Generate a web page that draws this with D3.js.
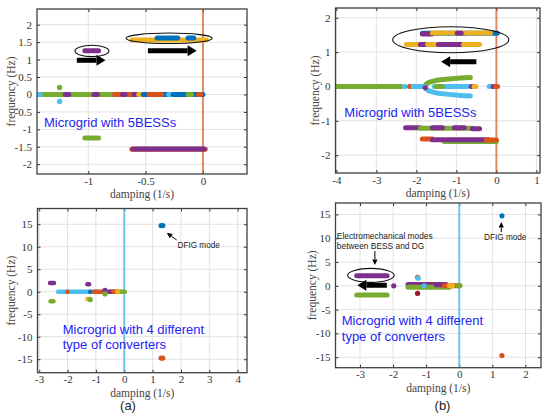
<!DOCTYPE html>
<html>
<head>
<meta charset="utf-8">
<script src="https://cdn.jsdelivr.net/npm/d3@7"></script>
<style>
body { margin: 0; background: #fff; }
</style>
</head>
<body>
<div id="fig"></div>
<script>
// MATLAB default line colours
var blue = "#0072BD", orange = "#D95319", yellow = "#EDB120", purple = "#7E2F8E",
    green = "#77AC30", cyan = "#4DBEEE", maroon = "#A2142F";

// ---- (a) top : microgrid with 5 BESSs ----
var aTopXTicks = [-1, -0.5, 0];
var aTopYTicks = [-2, -1.5, -1, -0.5, 0, 0.5, 1, 1.5, 2];
// bands: [damping start, damping end, frequency, colour]
var aTopBands = [
    [-1.45, -1.38, 0, cyan], [-1.38, -0.77, 0, green], [-1.2, -1.17, 0, purple], [-0.95, -0.92, 0, purple],
    [-0.77, -0.52, 0, orange], [-0.7, -0.68, 0, purple], [-0.6, -0.58, 0, purple], [-0.56, -0.54, 0, yellow],
    [-0.52, -0.26, 0, blue], [-0.47, -0.36, 0, orange], [-0.3, -0.28, 0, cyan],
    [-0.26, 0, 0, blue], [-0.13, -0.1, 0, green], [-0.04, -0.02, 0, orange],
    [-1.03, -0.91, 1.25, purple],
    [-0.62, 0.03, 1.56, yellow], [-0.4, -0.22, 1.62, blue], [-0.13, -0.08, 1.62, blue],
    [-1.03, -0.91, -1.25, green],
    [-0.62, 0.02, -1.57, orange], [-0.61, 0.01, -1.56, purple]
];
var aTopDots = [[-1.25, 0.2, green], [-1.25, -0.2, cyan]];
var aTopEllipses = [[-0.968, 1.247, 0.148, 0.163], [-0.295, 1.61, 0.376, 0.15]];
var aTopArrows = [[-1.1, 0.98, -0.85, 0.98], [-0.48, 1.255, -0.055, 1.255]];

// ---- (b) top : microgrid with 5 BESSs ----
var bTopXTicks = [-4, -3, -2, -1, 0, 1];
var bTopYTicks = [-2, -1, 0, 1, 2];
var bTopBands = [
    [-4.02, -2.38, 0, green], [-2.3, -2.28, 0, cyan], [-2.17, -2.15, 0, orange], [-2.08, -1.86, 0, cyan],
    [-1.78, -1.78, -0.04, purple], [-1.55, -0.72, 0, cyan], [-1.5, -1.35, 0, green],
    [-0.63, -0.6, 0, purple], [-0.56, -0.51, 0, yellow], [-0.18, -0.12, 0, cyan], [-0.08, -0.04, 0, purple], [-0.02, 0.03, 0, orange],
    [-1.85, 0.02, 1.55, blue], [-1.85, -1.6, 1.53, purple], [-1.6, -1.25, 1.56, yellow],
    [-1.15, -0.85, 1.56, yellow], [-0.75, -0.15, 1.56, yellow], [-0.98, -0.88, 1.55, purple],
    [-2.25, -1.9, 1.22, yellow], [-1.9, -1.75, 1.22, purple], [-1.72, -1.45, 1.22, yellow],
    [-1.45, -0.85, 1.22, purple], [-0.82, -0.42, 1.22, yellow],
    [-2.27, -1.9, -1.2, purple], [-1.9, -0.6, -1.22, green], [-1.6, -1.35, -1.2, purple],
    [-1.05, -0.8, -1.2, purple], [-0.6, -0.42, -1.23, purple],
    [-1.3, 0.0, -1.6, green], [-1.85, -1.6, -1.53, orange], [-1.6, -1.3, -1.55, purple],
    [-1.25, -0.2, -1.55, purple], [-0.25, 0.0, -1.56, orange]
];
var bTopUpper = [[-1.8, 0], [-1.76, 0.06], [-1.7, 0.11], [-1.6, 0.15], [-1.45, 0.19], [-1.2, 0.22], [-0.9, 0.245], [-0.65, 0.26]];
var bTopLower = [[-1.8, 0], [-1.76, -0.06], [-1.7, -0.12], [-1.6, -0.16], [-1.45, -0.2], [-1.2, -0.23], [-0.9, -0.26], [-0.65, -0.28]];
var bTopEllipses = [[-1.14, 1.36, 1.45, 0.38]];
var bTopArrows = [[-0.5, 0.72, -1.38, 0.72]];

// ---- (a) bottom : microgrid with 4 different converters ----
var aBotXTicks = [-3, -2, -1, 0, 1, 2, 3, 4];
var aBotYTicks = [-15, -10, -5, 0, 5, 10, 15];
var aBotBands = [
    [-2.33, -0.97, 0, cyan], [-2.0, -2.0, 0, orange], [-1.2, -1.2, 0, blue],
    [-1.06, -0.5, 0, orange], [-0.5, -0.3, 0, purple], [-0.38, -0.33, 0, orange],
    [-0.3, -0.1, 0, orange], [-0.25, -0.15, 0, yellow], [-0.08, 0.02, 0, green],
    [-2.62, -2.48, 1.96, purple], [-2.6, -2.5, -2.1, green],
    [-1.3, -1.24, 1.67, purple], [-1.3, -1.22, -1.6, yellow]
];
var aBotDots = [[-0.68, 0.3, purple], [-0.68, -0.5, green], [-1.2, -1.75, green], [1.3, 14.7, blue], [1.36, 14.7, blue],
    [1.3, -14.75, orange], [1.36, -14.75, orange]];
var aBotThinArrows = [[1.85, 11.5, 1.5, 13.1]];

// ---- (b) bottom : microgrid with 4 different converters ----
var bBotXTicks = [-3, -2, -1, 0, 1, 2];
var bBotYTicks = [-15, -10, -5, 0, 5, 10, 15];
var bBotBands = [
    [-3.1, -2.18, 2.12, purple], [-3.1, -2.18, -1.93, green],
    [-1.55, -0.4, 0.3, purple], [-1.55, -0.3, -0.3, green], [-0.7, -0.45, 0.2, purple],
    [-0.45, 0.02, 0, orange], [-0.3, -0.2, 0, yellow], [-0.04, 0.02, 0, green]
];
var bBotDots = [[-1.98, 0, purple], [-1.06, 0, cyan], [-1.26, 1.78, orange], [-1.24, 1.6, cyan],
    [-1.26, -1.57, cyan], [-1.26, -1.57, maroon], [1.29, 14.7, blue], [1.29, -14.66, orange]];
var bBotEllipses = [[-2.67, 2.2, 0.705, 1.47]];
var bBotArrows = [[-2.19, 0.1, -3.08, 0.1]];
var bBotThinArrows = [[-2.55, 7.3, -2.55, 4.4], [1.27, 11.3, 1.27, 13.4]];

var serif = "'Liberation Serif','Times New Roman',Times,serif";
var sans = "'Liberation Sans',Arial,Helvetica,sans-serif";

var svg = d3.select("#fig").append("svg")
    .attr("width", 542)
    .attr("height", 413)
    .style("font-family", serif);

function drawPanel(p) {
    var x = d3.scaleLinear().domain(p.xDomain).range([p.left, p.right]);
    var y = d3.scaleLinear().domain(p.yDomain).range([p.bottom, p.top]);
    var g = svg.append("g");

    // grid
    g.selectAll(".gx").data(p.xTicks).enter().append("line")
        .attr("x1", d => x(d)).attr("x2", d => x(d))
        .attr("y1", p.top).attr("y2", p.bottom)
        .attr("stroke", "#e2e2e2");
    g.selectAll(".gy").data(p.yTicks).enter().append("line")
        .attr("x1", p.left).attr("x2", p.right)
        .attr("y1", d => y(d)).attr("y2", d => y(d))
        .attr("stroke", "#e2e2e2");

    var fmt = d => String(d);
    var axes = [
        g.append("g").attr("transform", "translate(0," + p.bottom + ")")
            .call(d3.axisBottom(x).tickValues(p.xTicks).tickFormat(fmt).tickSizeInner(-3).tickSizeOuter(0).tickPadding(3)),
        g.append("g").attr("transform", "translate(" + p.left + ",0)")
            .call(d3.axisLeft(y).tickValues(p.yTicks).tickFormat(fmt).tickSizeInner(-3).tickSizeOuter(0).tickPadding(5)),
        g.append("g").attr("transform", "translate(0," + p.top + ")")
            .call(d3.axisTop(x).tickValues(p.xTicks).tickFormat("").tickSizeInner(-3).tickSizeOuter(0)),
        g.append("g").attr("transform", "translate(" + p.right + ",0)")
            .call(d3.axisRight(y).tickValues(p.yTicks).tickFormat("").tickSizeInner(-3).tickSizeOuter(0))
    ];
    axes.forEach(function (a) {
        a.select(".domain").remove();
        a.attr("font-family", null).attr("font-size", null);
        a.selectAll("line").attr("stroke", "#333");
        a.selectAll("text").attr("fill", "#333").style("font-size", "11px").style("font-family", serif);
    });

    var clipId = "clip" + p.name;
    svg.append("clipPath").attr("id", clipId).append("rect")
        .attr("x", p.left).attr("y", p.top)
        .attr("width", p.right - p.left).attr("height", p.bottom - p.top);
    var plot = g.append("g").attr("clip-path", "url(#" + clipId + ")");

    // stability boundary
    plot.append("line")
        .attr("x1", x(0)).attr("x2", x(0))
        .attr("y1", p.top).attr("y2", p.bottom)
        .attr("stroke", p.zeroColor)
        .attr("stroke-opacity", p.zeroOpacity)
        .attr("stroke-width", 2);

    (p.curves || []).forEach(function (c) {
        plot.append("path")
            .attr("d", d3.line().x(d => x(d[0])).y(d => y(d[1]))(c.pts))
            .attr("fill", "none")
            .attr("stroke", c.color)
            .attr("stroke-width", 5)
            .attr("stroke-linecap", "round")
            .attr("stroke-linejoin", "round");
    });

    plot.selectAll(".band").data(p.bands).enter().append("line")
        .attr("x1", d => x(d[0])).attr("x2", d => x(d[1]))
        .attr("y1", d => y(d[2])).attr("y2", d => y(d[2]))
        .attr("stroke", d => d[3])
        .attr("stroke-width", p.bandWidth)
        .attr("stroke-linecap", "round");

    plot.selectAll(".dot").data(p.dots || []).enter().append("circle")
        .attr("cx", d => x(d[0])).attr("cy", d => y(d[1]))
        .attr("r", p.dotR)
        .attr("fill", d => d[2]);

    plot.selectAll(".ell").data(p.ellipses || []).enter().append("ellipse")
        .attr("cx", d => x(d[0])).attr("cy", d => y(d[1]))
        .attr("rx", d => x(d[0] + d[2]) - x(d[0]))
        .attr("ry", d => y(d[1]) - y(d[1] + d[3]))
        .attr("fill", "none")
        .attr("stroke", "#111")
        .attr("stroke-width", 1.1);

    // thick annotation arrows
    (p.arrows || []).forEach(function (a) {
        var x0 = x(a[0]), y0 = y(a[1]), x1 = x(a[2]), y1 = y(a[3]);
        var dir = x1 > x0 ? 1 : -1, head = 9;
        plot.append("line")
            .attr("x1", x0).attr("y1", y0).attr("x2", x1 - dir * head).attr("y2", y1)
            .attr("stroke", "#000").attr("stroke-width", 5);
        plot.append("path")
            .attr("d", "M" + x1 + "," + y1 + "L" + (x1 - dir * head) + "," + (y1 - 5.5) + "L" + (x1 - dir * head) + "," + (y1 + 5.5) + "Z")
            .attr("fill", "#000");
    });

    // thin annotation arrows
    (p.thinArrows || []).forEach(function (a) {
        var x0 = x(a[0]), y0 = y(a[1]), x1 = x(a[2]), y1 = y(a[3]);
        var ang = Math.atan2(y1 - y0, x1 - x0), L = 5.5, W = 2.6;
        var bx = x1 - L * Math.cos(ang), by = y1 - L * Math.sin(ang);
        g.append("line").attr("x1", x0).attr("y1", y0).attr("x2", bx).attr("y2", by)
            .attr("stroke", "#000").attr("stroke-width", 1);
        g.append("path")
            .attr("d", "M" + x1 + "," + y1 +
                "L" + (bx + W * Math.sin(ang)) + "," + (by - W * Math.cos(ang)) +
                "L" + (bx - W * Math.sin(ang)) + "," + (by + W * Math.cos(ang)) + "Z")
            .attr("fill", "#000");
    });

    // labels
    g.append("text")
        .attr("x", (p.left + p.right) / 2)
        .attr("y", p.bottom + 24)
        .attr("text-anchor", "middle")
        .style("font-size", "11.5px")
        .attr("fill", "#444")
        .text("damping (1/s)");
    g.append("text")
        .attr("transform", "translate(" + p.yLabelX + "," + (p.top + p.bottom) / 2 + ") rotate(-90)")
        .attr("text-anchor", "middle")
        .style("font-size", "11.5px")
        .attr("fill", "#444")
        .text("frequency (Hz)");

    (p.notes || []).forEach(function (n) {
        g.append("text")
            .attr("x", x(n.x)).attr("y", y(n.y))
            .attr("text-anchor", n.anchor || "start")
            .style("font-family", sans)
            .style("font-size", n.size + "px")
            .attr("fill", n.color)
            .text(n.text);
    });

    g.append("rect")
        .attr("x", p.left).attr("y", p.top)
        .attr("width", p.right - p.left).attr("height", p.bottom - p.top)
        .attr("fill", "none")
        .attr("stroke", "#404040")
        .attr("stroke-width", 1.3);
}

drawPanel({
    name: "aTop", left: 37, right: 247, top: 9, bottom: 174,
    xDomain: [-1.447, 0.384], yDomain: [-2.28, 2.45],
    xTicks: aTopXTicks, yTicks: aTopYTicks,
    zeroColor: orange, zeroOpacity: 0.65, yLabelX: 15,
    bands: aTopBands, bandWidth: 5, dots: aTopDots, dotR: 2.7,
    ellipses: aTopEllipses, arrows: aTopArrows,
    notes: [{ x: -1.386, y: -0.92, text: "Microgrid with 5BESSs", size: 13, color: "#2424f2" }]
});

drawPanel({
    name: "bTop", left: 335.5, right: 540, top: 8, bottom: 173,
    xDomain: [-4.02, 1.09], yDomain: [-2.52, 2.285],
    xTicks: bTopXTicks, yTicks: bTopYTicks,
    zeroColor: orange, zeroOpacity: 0.65, yLabelX: 319,
    bands: bTopBands, bandWidth: 5, dotR: 2.7,
    curves: [{ pts: bTopUpper, color: green }, { pts: bTopLower, color: cyan }],
    ellipses: bTopEllipses, arrows: bTopArrows,
    notes: [{ x: -3.8, y: -0.88, text: "Microgrid with 5BESSs", size: 13, color: "#2424f2" }]
});

drawPanel({
    name: "aBot", left: 37.5, right: 247, top: 208.5, bottom: 372.7,
    xDomain: [-3.06, 4.33], yDomain: [-18.0, 18.5],
    xTicks: aBotXTicks, yTicks: aBotYTicks,
    zeroColor: cyan, zeroOpacity: 0.8, yLabelX: 15,
    bands: aBotBands, bandWidth: 4.5, dots: aBotDots, dotR: 2.6,
    thinArrows: aBotThinArrows,
    notes: [
        { x: 1.88, y: 9.7, text: "DFIG mode", size: 8.2, color: "#222" },
        { x: -2.17, y: -9.5, text: "Microgrid with 4 different", size: 13, color: "#2424f2" },
        { x: -2.17, y: -12.8, text: "type of converters", size: 13, color: "#2424f2" }
    ]
});

drawPanel({
    name: "bBot", left: 335.5, right: 541, top: 203, bottom: 367.7,
    xDomain: [-3.74, 2.47], yDomain: [-17.2, 17.4],
    xTicks: bBotXTicks, yTicks: bBotYTicks,
    zeroColor: cyan, zeroOpacity: 0.8, yLabelX: 316,
    bands: bBotBands, bandWidth: 5, dots: bBotDots, dotR: 2.6,
    ellipses: bBotEllipses, arrows: bBotArrows, thinArrows: bBotThinArrows,
    notes: [
        { x: -3.7, y: 9.8, text: "Electromechanical modes", size: 8.4, color: "#222" },
        { x: -3.7, y: 7.7, text: "between BESS and DG", size: 8.4, color: "#222" },
        { x: 1.39, y: 9.6, text: "DFIG mode", size: 8.2, color: "#222", anchor: "middle" },
        { x: -3.55, y: -8.2, text: "Microgrid with 4 different", size: 13, color: "#2424f2" },
        { x: -3.55, y: -11.5, text: "type of converters", size: 13, color: "#2424f2" }
    ]
});

svg.append("text").attr("x", 128).attr("y", 410).attr("text-anchor", "middle")
    .style("font-family", sans).style("font-size", "13px")
    .attr("fill", "#222").text("(a)");
svg.append("text").attr("x", 442.5).attr("y", 410).attr("text-anchor", "middle")
    .style("font-family", sans).style("font-size", "13px")
    .attr("fill", "#222").text("(b)");
</script>
</body>
</html>
